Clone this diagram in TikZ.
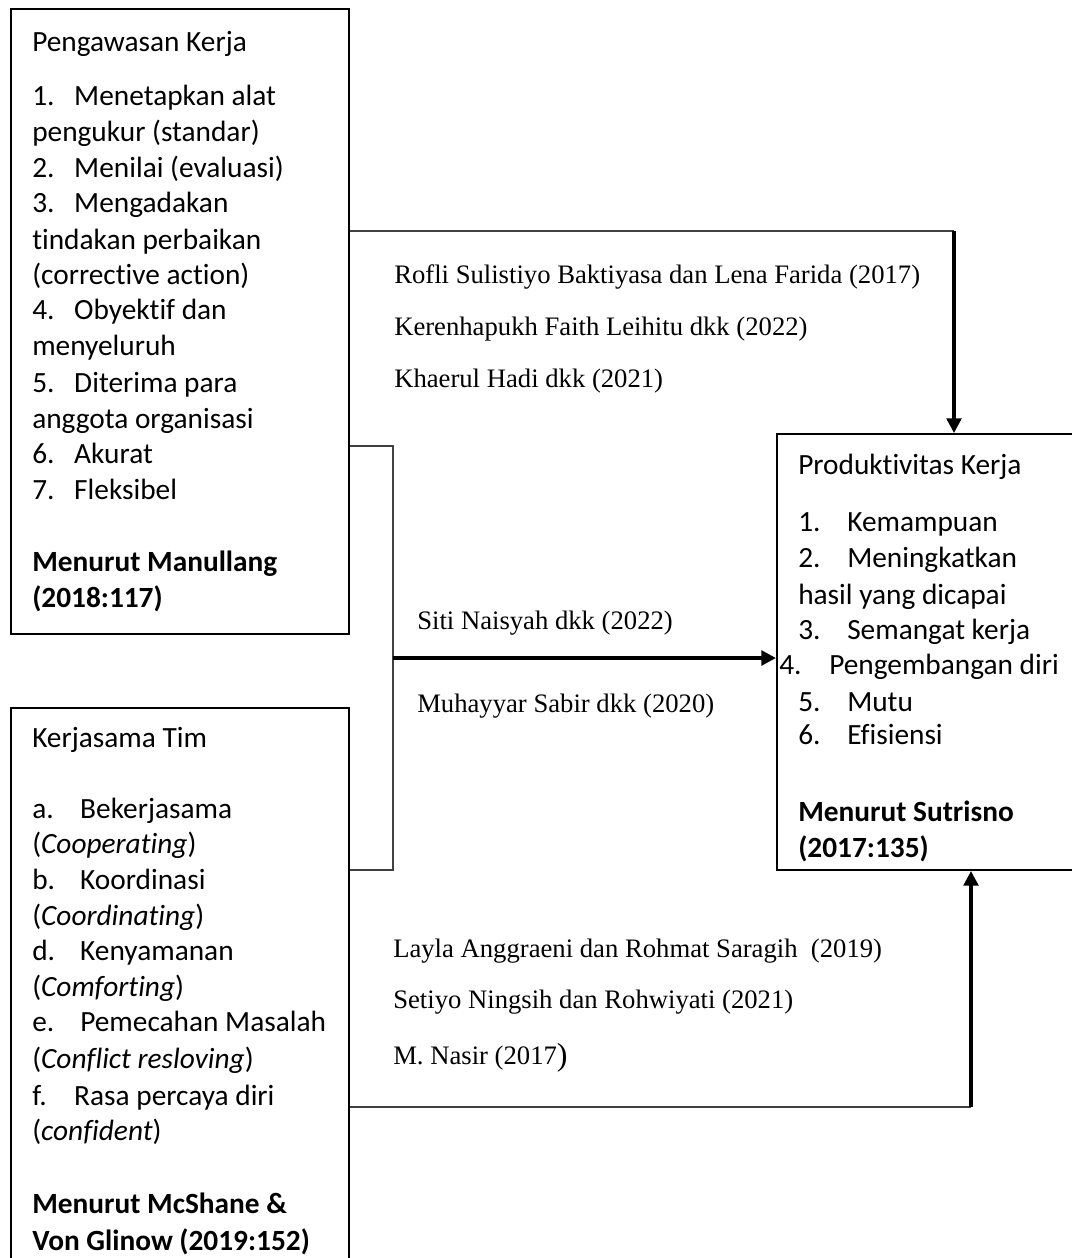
\documentclass[tikz,border=0pt]{standalone}
\usepackage{fontspec}
\setmainfont{Carlito}[Ligatures=CommonOff]
\newfontfamily\serifref{Liberation Serif}
\usetikzlibrary{arrows.meta}
\newcommand\itm[3]{\makebox[#1][l]{#2}#3}
\begin{document}
\begin{tikzpicture}[x=0.75pt,y=-0.75pt,
  boxline/.style={draw=black, line width=1.5pt, inner sep=0pt, anchor=north west},
  cal/.style={font=\fontsize{22}{27}\selectfont, anchor=base west, inner sep=0pt},
  calb/.style={font=\fontsize{22}{27}\selectfont\bfseries, anchor=base west, inner sep=0pt},
  reftxt/.style={font=\fontsize{20}{24}\selectfont\serifref, anchor=base west, inner sep=0pt},
  thinline/.style={line width=1pt, draw=black!75},
  thickv/.style={line width=2.5pt, -{Triangle[width=11pt,length=11pt]}},
  thickh/.style={line width=3pt, -{Triangle[width=11pt,length=11pt]}}
]
\useasboundingbox (0,0) rectangle (1072,1258);
\begin{scope}
\clip (0,0) rectangle (1072,1258);
% boxes
\node[boxline, minimum width=253.5pt, minimum height=468.75pt] (pk) at (10,8) {};
\node[boxline, minimum width=253.5pt, minimum height=440pt] (kt) at (10,707) {};
\node[boxline, minimum width=250pt, minimum height=327pt] (pt) at (776,433) {};

% box 1 text
\node[cal] (pk1) at (32,51) {Pengawasan Kerja};
\node[cal] (pk2) at (32,105) {\itm{31.5pt}{1.}{Menetapkan alat}};
\node[cal] (pk3) at (32,141) {pengukur (standar)};
\node[cal] (pk4) at (32,177) {\itm{31.5pt}{2.}{Menilai (evaluasi)}};
\node[cal] (pk5) at (32,212) {\itm{31.5pt}{3.}{Mengadakan}};
\node[cal] (pk6) at (32,249) {tindakan perbaikan};
\node[cal] (pk7) at (32,284) {(corrective action)};
\node[cal] (pk8) at (32,319) {\itm{31.5pt}{4.}{Obyektif dan}};
\node[cal] (pk9) at (32,355) {menyeluruh};
\node[cal] (pk10) at (32,392) {\itm{31.5pt}{5.}{Diterima para}};
\node[cal] (pk11) at (32,428) {anggota organisasi};
\node[cal] (pk12) at (32,463) {\itm{31.5pt}{6.}{Akurat}};
\node[cal] (pk13) at (32,499) {\itm{31.5pt}{7.}{Fleksibel}};
\node[calb] (pk14) at (32,571) {Menurut Manullang};
\node[calb] (pk15) at (32,607) {(2018:117)};

% box 2 text
\node[cal] (kt1) at (32,747) {Kerjasama Tim};
\node[cal] (kt2) at (32,818) {\itm{36pt}{a.}{Bekerjasama}};
\node[cal] (kt3) at (32,853) {(\textit{Cooperating})};
\node[cal] (kt4) at (32,889) {\itm{36pt}{b.}{Koordinasi}};
\node[cal] (kt5) at (32,925) {(\textit{Coordinating})};
\node[cal] (kt6) at (32,960) {\itm{36pt}{d.}{Kenyamanan}};
\node[cal] (kt7) at (32,996) {(\textit{Comforting})};
\node[cal] (kt8) at (32,1031) {\itm{36pt}{e.}{Pemecahan Masalah}};
\node[cal] (kt9) at (32,1068) {(\textit{Conflict resloving})};
\node[cal] (kt10) at (32,1105) {\itm{31.5pt}{f.}{Rasa percaya diri}};
\node[cal] (kt11) at (32,1140) {(\textit{confident})};
\node[calb] (kt12) at (32,1213) {Menurut McShane \&};
\node[calb] (kt13) at (32,1250) {Von Glinow (2019:152)};

% box 3 text
\node[cal] (pt1) at (798,474) {Produktivitas Kerja};
\node[cal] (pt2) at (798,531) {\itm{36.75pt}{1.}{Kemampuan}};
\node[cal] (pt3) at (798,567) {\itm{36.75pt}{2.}{Meningkatkan}};
\node[cal] (pt4) at (798,604) {hasil yang dicapai};
\node[cal] (pt5) at (798,639) {\itm{36.75pt}{3.}{Semangat kerja}};
\node[cal] (pt6) at (779,674) {\itm{37.5pt}{4.}{Pengembangan diri}};
\node[cal] (pt7) at (798,711) {\itm{36.75pt}{5.}{Mutu}};
\node[cal] (pt8) at (798,744) {\itm{36.75pt}{6.}{Efisiensi}};
\node[calb] (pt9) at (798,821) {Menurut Sutrisno};
\node[calb] (pt10) at (798,857) {(2017:135)};
\end{scope}

% reference labels
\node[reftxt] (r1) at (394,283) {Rofli Sulistiyo Baktiyasa dan Lena Farida (2017)};
\node[reftxt] (r2) at (394,335) {Kerenhapukh Faith Leihitu dkk (2022)};
\node[reftxt] (r3) at (394,387) {Khaerul Hadi dkk (2021)};
\node[reftxt] (r4) at (417,629) {Siti Naisyah dkk (2022)};
\node[reftxt] (r5) at (417,712) {Muhayyar Sabir dkk (2020)};
\node[reftxt] (r6) at (393,957) {Layla Anggraeni dan Rohmat Saragih\ \ (2019)};
\node[reftxt] (r7) at (393,1008) {Setiyo Ningsih dan Rohwiyati (2021)};
\node[reftxt] (r8) at (393,1064) {M. Nasir (2017{\fontsize{24}{24}\selectfont\raisebox{-1pt}{)}}};

% connectors
\coordinate (t1) at (954,231);
\draw[thinline] (t1 -| pk.east) -- (t1);
\draw[thickv] (t1) -- (t1 |- pt.north);

\coordinate (m1) at (393,446);
\coordinate (m2) at (393,870);
\coordinate (m3) at (393,658);
\draw[thinline] (m1 -| pk.east) -- (m1) -- (m2) -- (m2 -| kt.east);
\draw[thickh] (m3) -- (m3 -| pt.west);

\coordinate (b1) at (971,1107);
\draw[thinline] (b1 -| kt.east) -- (b1);
\draw[thickv] (b1) -- (b1 |- pt.south);
\end{tikzpicture}
\end{document}
